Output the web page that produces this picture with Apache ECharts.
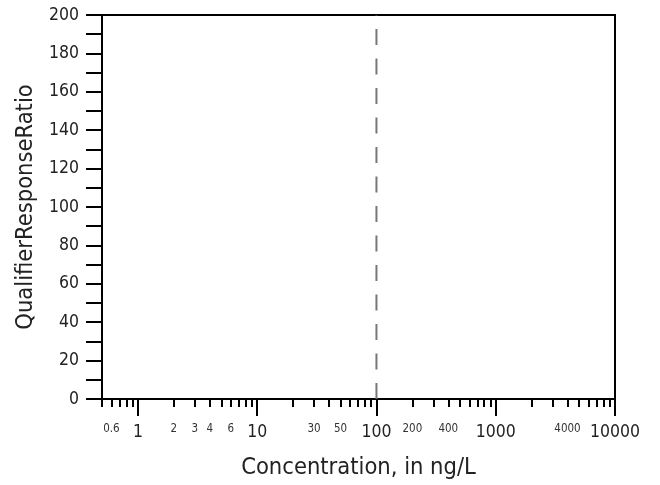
<!DOCTYPE html>
<html><head><meta charset="utf-8">
<script src="https://cdn.jsdelivr.net/npm/echarts@6/dist/echarts.min.js"></script>
<style>html,body{margin:0;padding:0;background:#fff}#c{width:660px;height:485px}</style>
</head><body><div id="c"></div>
<script>
// ---- data ----
const xMin = 0.5, xMax = 10000;
const yMin = 0, yMax = 200, yStep = 20;
const majorTicks = [1, 10, 100, 1000, 10000];
const majorLabels = [1, 10, 100, 1000, 10000];
const minorTicks = [0.5, 0.6, 0.7, 0.8, 0.9,
  2, 3, 4, 5, 6, 7, 8, 9,
  20, 30, 40, 50, 60, 70, 80, 90,
  200, 300, 400, 500, 600, 700, 800, 900,
  2000, 3000, 4000, 5000, 6000, 7000, 8000, 9000];
const minorLabels = [0.6, 2, 3, 4, 6, 30, 50, 200, 400, 4000];
const refLineX = [100, 100];
const refLineY = [0, 200];
const xTitle = 'Concentration, in ng/L';
const yTitle = 'QualifierResponseRatio';

const FONT = "'Liberation Sans Narrow', 'DejaVu Sans Condensed', sans-serif";
const chart = echarts.init(document.getElementById('c'), null, {renderer: 'canvas'});

const baseX = {
  type: 'log', logBase: 10, min: xMin, max: xMax, position: 'bottom',
  splitLine: {show: false}, minorTick: {show: false}, minorSplitLine: {show: false}
};

chart.setOption({
  animation: false,
  backgroundColor: '#fff',
  grid: {left: 102, right: 45, top: 15, bottom: 86, show: true, borderColor: '#000', borderWidth: 2, backgroundColor: 'transparent'},
  xAxis: [
    Object.assign({}, baseX, {
      name: xTitle, nameLocation: 'middle', nameGap: 57,
      nameTextStyle: {fontFamily: FONT, fontSize: 23.5, color: '#222'},
      axisLine: {show: true, lineStyle: {color: '#000', width: 2}},
      axisTick: {show: true, inside: false, length: 17, lineStyle: {color: '#000', width: 2}, customValues: majorTicks},
      axisLabel: {show: true, margin: 24, fontFamily: FONT, fontSize: 17.5, color: '#222', customValues: majorLabels,
        formatter: v => String(v)}
    }),
    Object.assign({}, baseX, {
      axisLine: {show: false},
      axisTick: {show: true, inside: false, length: 8, lineStyle: {color: '#000', width: 2}, customValues: minorTicks},
      axisLabel: {show: true, margin: 24, fontFamily: FONT, fontSize: 11.5, color: '#333', customValues: minorLabels,
        formatter: v => String(v)}
    })
  ],
  yAxis: [{
    type: 'value', min: yMin, max: yMax, interval: yStep,
    name: yTitle, nameLocation: 'middle', nameGap: 62, nameRotate: 90,
    nameTextStyle: {fontFamily: FONT, fontSize: 23.5, color: '#222'},
    axisLine: {show: true, lineStyle: {color: '#000', width: 2}},
    axisTick: {show: true, inside: false, length: 16, lineStyle: {color: '#000', width: 2}},
    minorTick: {show: true, splitNumber: 2, length: 16, lineStyle: {color: '#000', width: 2}},
    axisLabel: {margin: 23, fontFamily: FONT, fontSize: 17.5, color: '#222'},
    splitLine: {show: false}
  }],
  series: [{
    type: 'line', xAxisIndex: 0, yAxisIndex: 0,
    data: refLineX.map((x, i) => [x, refLineY[i]]),
    symbol: 'none', silent: true,
    lineStyle: {color: '#777', width: 2, type: [16, 13.5]}
  }]
});
</script></body></html>
